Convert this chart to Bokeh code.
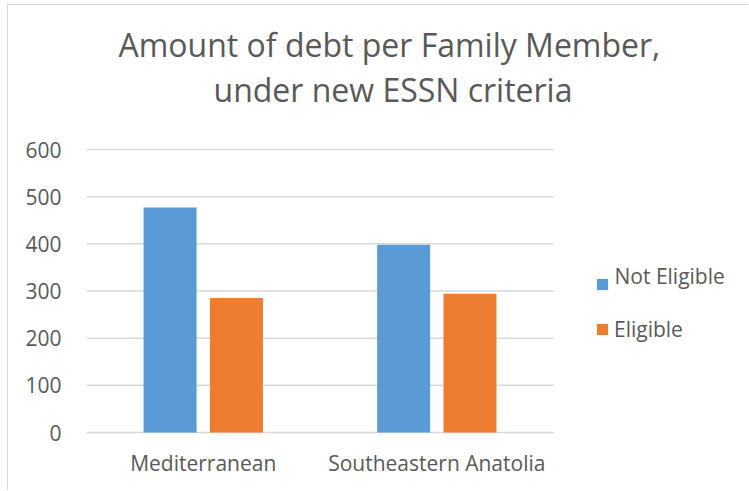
from bokeh.plotting import figure
from bokeh.models import Range1d, Legend, LegendItem, Title, ColumnDataSource, FixedTicker, Label
from bokeh.embed import file_html
from bokeh.resources import INLINE

regions = ["Mediterranean", "Southeastern Anatolia"]
series = ["Not Eligible", "Eligible"]
not_eligible = [477, 398]
eligible = [285, 294]
y_ticks = [0, 100, 200, 300, 400, 500, 600]
title_lines = ["Amount of debt per Family Member,", "under new ESSN criteria"]

TXT = "#595959"
FONT = "Open Sans"
BLUE = "#5B9BD5"
ORANGE = "#ED7D31"
GRID = "#D9D9D9"

n = len(regions)
centers = [i + 0.5 for i in range(n)]
src = ColumnDataSource(dict(
    x_ne=[c - 0.142 for c in centers], x_el=[c + 0.142 for c in centers],
    ne=not_eligible, el=eligible))

# the frame reaches to the right edge so that the legend is drawn inside it
p = figure(x_range=Range1d(0, 2.839), y_range=Range1d(-4.2, 682.7),
           width=741, height=486, output_backend="svg", toolbar_location=None,
           min_border_left=78, min_border_right=0, min_border_top=105,
           min_border_bottom=57)
p.margin = (4, 0, 0, 7)
p.styles = {"border-top": "1px solid #D9D9D9", "border-left": "1px solid #D9D9D9"}

# value gridlines spanning only the category area
p.segment(x0=[0] * len(y_ticks), x1=[n] * len(y_ticks), y0=y_ticks, y1=y_ticks,
          line_color=GRID, line_width=1.5)

r1 = p.vbar(x="x_ne", top="ne", bottom=0, width=0.227, source=src,
            fill_color=BLUE, line_color=None)
r2 = p.vbar(x="x_el", top="el", bottom=0, width=0.227, source=src,
            fill_color=ORANGE, line_color=None)

p.outline_line_color = None
p.background_fill_color = "white"
p.border_fill_color = "white"
p.xgrid.grid_line_color = None
p.ygrid.grid_line_color = None
p.yaxis.ticker = FixedTicker(ticks=y_ticks)
p.xaxis.ticker = FixedTicker(ticks=centers)
p.xaxis.major_label_overrides = {c: r for c, r in zip(centers, regions)}

for ax in (p.xaxis[0], p.yaxis[0]):
    ax.axis_line_color = None
    ax.major_tick_line_color = None
    ax.minor_tick_line_color = None
    ax.major_label_text_font = FONT
    ax.major_label_text_font_size = "21px"
    ax.major_label_text_color = TXT
p.yaxis.major_label_standoff = 19
p.xaxis.major_label_standoff = 8

# second line sits closest to the plot, first line above it
p.add_layout(Title(text=title_lines[1], align="left", offset=127, text_font=FONT,
                   text_font_size="32px", text_font_style="normal",
                   text_color=TXT, standoff=0), "above")
p.add_layout(Title(text=title_lines[0], align="left", offset=32, text_font=FONT,
                   text_font_size="32px", text_font_style="normal",
                   text_color=TXT, standoff=0), "above")

common = dict(padding=0, margin=0, glyph_width=14, glyph_height=14,
              label_standoff=5, label_text_font=FONT,
              label_text_font_size="21px", label_text_color=TXT,
              border_line_color=None, background_fill_alpha=0)
# first entry: swatch from the legend, its text sits a little higher (as in the reference)
legend1 = Legend(items=[LegendItem(label=" ", renderers=[r1])],
                 location=(509, 136), label_height=28, **common)
legend2 = Legend(items=[LegendItem(label=series[1], renderers=[r2])],
                 location=(509, 91), label_height=14, **common)
p.add_layout(legend1, "center")
p.add_layout(legend2, "center")
p.add_layout(Label(x=528, y=159, x_units="screen", y_units="screen",
                   text=series[0], text_font=FONT, text_font_size="21px",
                   text_color=TXT, text_baseline="middle", text_align="left"))

open("out.html", "w").write(file_html(p, INLINE))
